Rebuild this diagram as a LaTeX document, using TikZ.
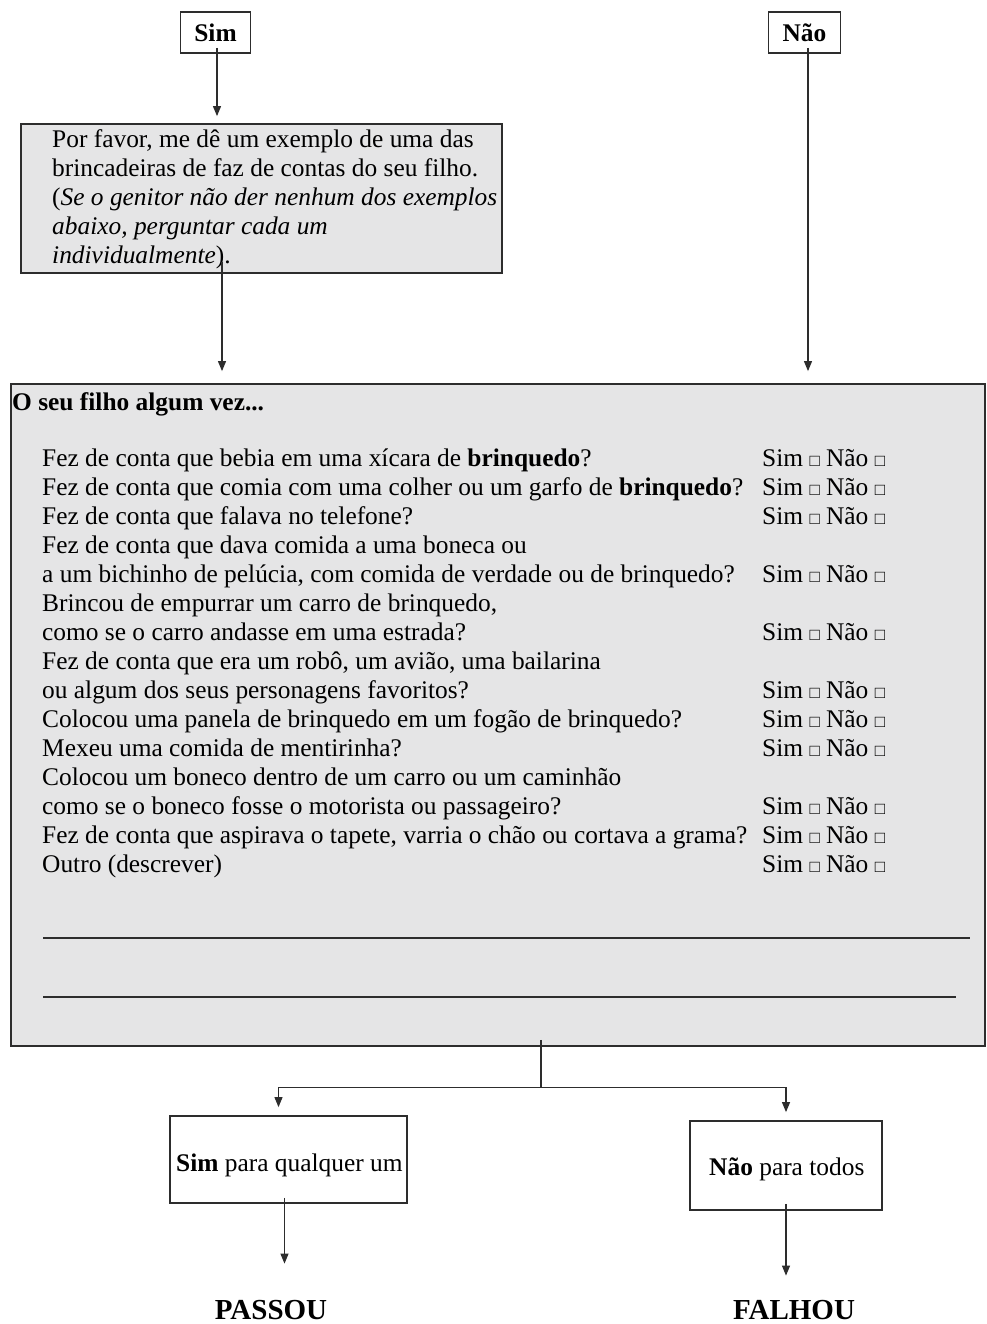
\documentclass[tikz,border=0pt]{standalone}
\usepackage{fontspec}
\setmainfont{Liberation Serif}
\usetikzlibrary{arrows.meta,calc}
\definecolor{boxgray}{RGB}{229,229,230}
\definecolor{inkline}{RGB}{45,45,45}
\newcommand{\sq}{{\fontsize{17}{17}\selectfont □}}
\newcommand{\simnao}{Sim \sq{} Não \sq}
\begin{document}
\begin{tikzpicture}[x=1pt,y=-1pt,
  font=\fontsize{25.4}{30}\selectfont,
  boxline/.style={draw=inkline,line width=1.8pt,inner sep=0pt},
  graybox/.style={boxline,fill=boxgray},
  conn/.style={draw=inkline,line width=1.1pt,-{Triangle[width=8pt,length=10pt]}},
  plain/.style={draw=inkline,line width=1.1pt},
  txt/.style={anchor=base west,inner sep=0pt},
  ctxt/.style={anchor=center,inner sep=0pt},
  bigword/.style={anchor=base,inner sep=0pt,font=\fontsize{29}{33}\selectfont\bfseries}]
\useasboundingbox[fill=white] (0,0) rectangle (986,1324);

% top choice boxes
\node[boxline,fill=white,minimum width=70pt,minimum height=41pt] (sim) at (215.5,32.5) {\textbf{Sim}};
\node[boxline,fill=white,minimum width=72pt,minimum height=41pt] (nao) at (804.5,32.5) {\textbf{Não}};

% example box
\node[graybox,minimum width=481pt,minimum height=149pt] (ex) at (261.5,198.5) {};
\foreach \t [count=\k from 0] in {
  {Por favor, me dê um exemplo de uma das},
  {brincadeiras de faz de contas do seu filho.},
  {(\textit{Se o genitor não der nenhum dos exemplos}},
  {\textit{abaixo, perguntar cada um}},
  {\textit{individualmente}).}}
  \node[txt] (e\k) at (52,148+28.8*\k) {\t};

% big question box
\node[graybox,minimum width=974pt,minimum height=662pt] (big) at (498,715) {};
\node[txt] (head) at (12,410) {\textbf{O seu filho algum vez...}};
\foreach \t [count=\k from 0] in {
  {Fez de conta que bebia em uma xícara de \textbf{brinquedo}?},
  {Fez de conta que comia com uma colher ou um garfo de \textbf{brinquedo}?},
  {Fez de conta que falava no telefone?},
  {Fez de conta que dava comida a uma boneca ou},
  {a um bichinho de pelúcia, com comida de verdade ou de brinquedo?},
  {Brincou de empurrar um carro de brinquedo,},
  {como se o carro andasse em uma estrada?},
  {Fez de conta que era um robô, um avião, uma bailarina},
  {ou algum dos seus personagens favoritos?},
  {Colocou uma panela de brinquedo em um fogão de brinquedo?},
  {Mexeu uma comida de mentirinha?},
  {Colocou um boneco dentro de um carro ou um caminhão},
  {como se o boneco fosse o motorista ou passageiro?},
  {Fez de conta que aspirava o tapete, varria o chão ou cortava a grama?},
  {Outro (descrever)}}
  \node[txt] (q\k) at (42,466+29.07*\k) {\t};
\foreach \k in {0,1,2,4,6,8,9,10,12,13,14}
  \node[txt] (a\k) at (762,466+29.07*\k) {\simnao};
\coordinate (r1a) at (43,938);
\coordinate (r1b) at (970,938);
\coordinate (r2a) at (43,997);
\coordinate (r2b) at (956,997);
\draw[inkline,line width=1.3pt] (r1a) -- (r1b);
\draw[inkline,line width=1.3pt] (r2a) -- (r2b);

% result boxes
\node[boxline,fill=white,minimum width=237pt,minimum height=87pt] (pass) at (288.5,1159.5) {};
\node[txt] (passtxt) at (176,1171) {\textbf{Sim} para qualquer um};
\node[boxline,fill=white,minimum width=192pt,minimum height=89pt] (fail) at (786,1165.5) {};
\node[txt] (failtxt) at (709,1175) {\textbf{Não} para todos};
\node[bigword] (passou) at (271,1319) {PASSOU};
\node[bigword] (falhou) at (794,1319) {FALHOU};

% connectors
\draw[conn,shorten <=-6pt,shorten >=7pt] ([xshift=1.5pt]sim.south) -- ([xshift=1.5pt]sim.south |- ex.north);
\draw[conn,shorten <=-6pt,shorten >=12pt] ([xshift=3.5pt]nao.south) -- ([xshift=3.5pt]nao.south |- big.north);
\draw[conn,shorten <=-12pt,shorten >=12pt] ([xshift=-39.5pt]ex.south) -- ([xshift=-39.5pt]ex.south |- big.north);
\coordinate (split) at ([xshift=43pt,yshift=-41pt]big.south);
\draw[plain,shorten <=-7pt] ([xshift=43pt]big.south) -- (split);
\draw[conn,shorten >=8pt] (split) -| ([xshift=-10pt]pass.north);
\draw[conn,shorten >=8pt] (split) -| (fail.north);
\draw[conn,shorten <=-6pt,shorten >=36pt] ([xshift=-4pt]pass.south) -- ([xshift=-4pt]pass.south |- passou.north);
\draw[conn,shorten <=-7pt,shorten >=24pt] (fail.south) -- (fail.south |- falhou.north);
\end{tikzpicture}
\end{document}
